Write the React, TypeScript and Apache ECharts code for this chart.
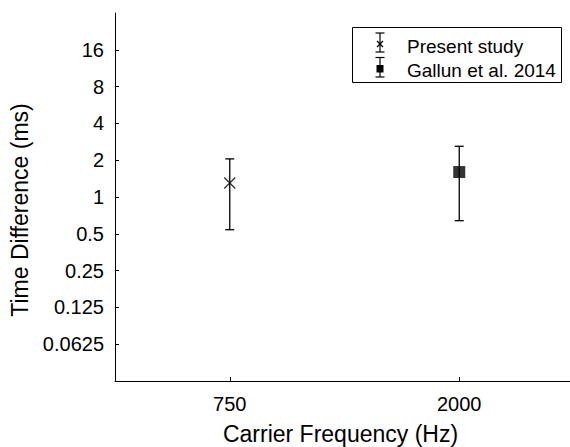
import React, { useEffect, useRef } from "react";
import * as echarts from "echarts";

const categories = ["750", "2000"];
const seriesNames = ["Present study", "Gallun et al. 2014"];
const seriesCategoryIndex = [0, 1];
const meanValues = [1.3, 1.6];
const lowerValues = [0.54, 0.64];
const upperValues = [2.05, 2.6];
const yTickValues = [0.0625, 0.125, 0.25, 0.5, 1, 2, 4, 8, 16];
const yMin = 1 / 32;
const yMax = 32;

const FONT = "'Liberation Sans', Arial, Helvetica, sans-serif";
const BLACK = "#000";

function errorBarRender(params: any, api: any) {
  const x = api.value(0);
  const lo = api.coord([x, api.value(1)]);
  const hi = api.coord([x, api.value(2)]);
  const cap = 4.5;
  const style = { stroke: BLACK, lineWidth: 1.3 };
  return {
    type: "group",
    children: [
      { type: "line", shape: { x1: hi[0], y1: hi[1], x2: lo[0], y2: lo[1] }, style },
      { type: "line", shape: { x1: hi[0] - cap, y1: hi[1], x2: hi[0] + cap, y2: hi[1] }, style },
      { type: "line", shape: { x1: lo[0] - cap, y1: lo[1], x2: lo[0] + cap, y2: lo[1] }, style },
    ],
  };
}

export default function App() {
  const ref = useRef<HTMLDivElement>(null);
  useEffect(() => {
    if (!ref.current) return;
    const chart = echarts.init(ref.current, null, { renderer: "svg" });

    const legendX = 380;
    const row1 = 44;
    const ls = { stroke: BLACK, lineWidth: 1.2 };

    chart.setOption({
      animation: false,
      backgroundColor: "#fff",
      textStyle: { fontFamily: FONT },
      grid: {
        left: 115,
        top: 13,
        width: 459,
        height: 368,
        containLabel: false,
        outerBoundsMode: "none",
      },
      xAxis: {
        type: "category",
        data: categories,
        boundaryGap: true,
        axisLine: { show: true, lineStyle: { color: BLACK, width: 1 } },
        axisTick: { show: true, inside: true, alignWithLabel: true, length: 4, lineStyle: { color: BLACK } },
        axisLabel: { color: BLACK, fontSize: 20, margin: 13, fontFamily: FONT },
        splitLine: { show: false },
        name: "Carrier Frequency (Hz)",
        nameLocation: "middle",
        nameGap: 41,
        nameTextStyle: { color: BLACK, fontSize: 23, fontFamily: FONT, padding: [0, 8, 0, 0] },
      },
      yAxis: {
        type: "log",
        logBase: 2,
        min: yMin,
        max: yMax,
        axisLine: { show: true, lineStyle: { color: BLACK, width: 1 } },
        axisTick: {
          show: true,
          inside: true,
          length: 4,
          lineStyle: { color: BLACK },
          customValues: yTickValues,
        },
        axisLabel: {
          color: BLACK,
          fontSize: 20,
          margin: 11,
          fontFamily: FONT,
          customValues: yTickValues,
          formatter: (v: number) => String(v),
        },
        splitLine: { show: false },
        minorTick: { show: false },
        name: "Time Difference (ms)",
        nameLocation: "middle",
        nameGap: 79,
        nameTextStyle: { color: BLACK, fontSize: 23, fontFamily: FONT, padding: [0, 26, 0, 0] },
      },
      series: [
        {
          name: seriesNames[0] + " error",
          type: "custom",
          renderItem: errorBarRender,
          encode: { x: 0, y: [1, 2] },
          data: [[seriesCategoryIndex[0], lowerValues[0], upperValues[0]]],
          z: 2,
        },
        {
          name: seriesNames[1] + " error",
          type: "custom",
          renderItem: errorBarRender,
          encode: { x: 0, y: [1, 2] },
          data: [[seriesCategoryIndex[1], lowerValues[1], upperValues[1]]],
          z: 2,
        },
        {
          name: seriesNames[0],
          type: "scatter",
          symbol: "path://M0,0L10,10M0,10L10,0",
          symbolSize: 11,
          itemStyle: { color: "none", borderColor: BLACK, borderWidth: 1.4 },
          data: [[categories[seriesCategoryIndex[0]], meanValues[0]]],
          z: 3,
        },
        {
          name: seriesNames[1],
          type: "scatter",
          symbol: "rect",
          symbolSize: 12,
          itemStyle: { color: BLACK },
          data: [[categories[seriesCategoryIndex[1]], meanValues[1]]],
          z: 3,
        },
      ],
      graphic: [
        {
          type: "group",
          children: [
            {
              type: "rect",
              shape: { x: 352.5, y: 27.5, width: 209, height: 55 },
              style: { fill: "#fff", stroke: BLACK, lineWidth: 1 },
            },
            // Present study icon
            { type: "line", shape: { x1: legendX, y1: 33, x2: legendX, y2: 52 }, style: ls },
            { type: "line", shape: { x1: legendX - 4.5, y1: 33, x2: legendX + 4.5, y2: 33 }, style: ls },
            { type: "line", shape: { x1: legendX - 4.5, y1: 52, x2: legendX + 4.5, y2: 52 }, style: ls },
            { type: "line", shape: { x1: legendX - 3, y1: row1 - 3, x2: legendX + 3, y2: row1 + 3 }, style: ls },
            { type: "line", shape: { x1: legendX - 3, y1: row1 + 3, x2: legendX + 3, y2: row1 - 3 }, style: ls },
            {
              type: "text",
              x: 407,
              y: 46,
              style: { text: seriesNames[0], fill: BLACK, fontSize: 19, fontFamily: FONT, verticalAlign: "middle", align: "left" },
            },
            // Gallun icon
            { type: "line", shape: { x1: legendX, y1: 57.5, x2: legendX, y2: 77 }, style: ls },
            { type: "line", shape: { x1: legendX - 4.5, y1: 57.5, x2: legendX + 4.5, y2: 57.5 }, style: ls },
            { type: "line", shape: { x1: legendX - 4.5, y1: 77, x2: legendX + 4.5, y2: 77 }, style: ls },
            { type: "rect", shape: { x: legendX - 3.5, y: 65, width: 7, height: 7.5 }, style: { fill: BLACK } },
            {
              type: "text",
              x: 407,
              y: 70,
              style: { text: seriesNames[1], fill: BLACK, fontSize: 19, fontFamily: FONT, verticalAlign: "middle", align: "left" },
            },
          ],
        },
      ],
    });
    return () => chart.dispose();
  }, []);

  return (
    <div
      ref={ref}
      style={{ position: "absolute", left: 0, top: 0, width: 570, height: 447, background: "#fff" }}
    />
  );
}
